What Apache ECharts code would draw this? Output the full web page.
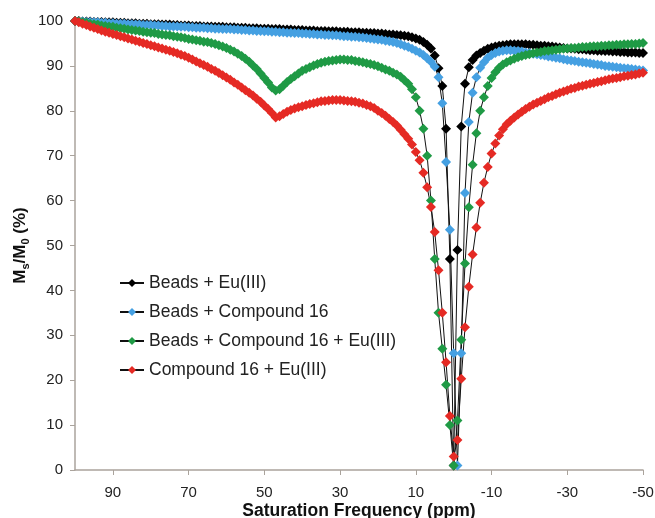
<!DOCTYPE html>
<html><head><meta charset="utf-8">
<script src="https://cdn.jsdelivr.net/npm/echarts@6/dist/echarts.min.js"></script>
<style>html,body{margin:0;padding:0;background:#fff}#c{width:655px;height:518px}</style>
</head><body><div id="c"></div>
<script>
const ppm = [100,99,98,97,96,95,94,93,92,91,90,89,88,87,86,85,84,83,82,81,80,79,78,77,76,75,74,73,72,71,70,69,68,67,66,65,64,63,62,61,60,59,58,57,56,55,54,53,52,51,50,49,48,47,46,45,44,43,42,41,40,39,38,37,36,35,34,33,32,31,30,29,28,27,26,25,24,23,22,21,20,19,18,17,16,15,14,13,12,11,10,9,8,7,6,5,4,3,2,1,0,-1,-2,-3,-4,-5,-6,-7,-8,-9,-10,-11,-12,-13,-14,-15,-16,-17,-18,-19,-20,-21,-22,-23,-24,-25,-26,-27,-28,-29,-30,-31,-32,-33,-34,-35,-36,-37,-38,-39,-40,-41,-42,-43,-44,-45,-46,-47,-48,-49,-50];

const beadsEu = [
100.0,100.0,99.9,99.9,99.9,99.8,99.8,99.8,99.7,99.7,
99.7,99.6,99.6,99.6,99.5,99.5,99.5,99.4,99.4,99.4,
99.3,99.3,99.3,99.2,99.2,99.2,99.1,99.1,99.0,99.0,
99.0,98.9,98.9,98.9,98.8,98.8,98.8,98.7,98.7,98.7,
98.6,98.6,98.6,98.5,98.5,98.5,98.4,98.4,98.4,98.3,
98.3,98.3,98.2,98.2,98.2,98.1,98.1,98.1,98.0,98.0,
98.0,97.9,97.9,97.9,97.8,97.8,97.8,97.7,97.7,97.7,
97.6,97.6,97.6,97.5,97.5,97.5,97.4,97.4,97.3,97.3,
97.2,97.2,97.1,97.0,97.0,96.9,96.8,96.7,96.6,96.4,
96.1,95.8,95.3,94.7,93.9,92.3,89.5,85.5,76.0,47.0,
1.0,
49.0,76.5,86.0,89.7,91.3,92.3,92.9,93.4,93.8,94.1,
94.3,94.5,94.6,94.7,94.8,94.8,94.8,94.8,94.8,94.7,
94.7,94.6,94.5,94.5,94.4,94.3,94.2,94.1,94.0,93.9,
93.9,93.8,93.7,93.7,93.6,93.5,93.5,93.4,93.4,93.3,
93.3,93.2,93.2,93.1,93.1,93.0,93.0,93.0,92.9,92.9];

const beadsCpd = [
100.0,99.9,99.9,99.8,99.8,99.7,99.7,99.6,99.6,99.5,
99.5,99.4,99.4,99.4,99.3,99.3,99.2,99.2,99.1,99.1,
99.1,99.0,99.0,98.9,98.9,98.8,98.8,98.8,98.7,98.7,
98.6,98.6,98.5,98.5,98.5,98.4,98.4,98.3,98.3,98.2,
98.2,98.2,98.1,98.1,98.0,98.0,97.9,97.9,97.8,97.8,
97.7,97.7,97.6,97.6,97.5,97.5,97.4,97.4,97.3,97.3,
97.2,97.2,97.1,97.1,97.0,97.0,96.9,96.9,96.8,96.8,
96.7,96.6,96.6,96.5,96.5,96.4,96.3,96.2,96.1,96.0,
95.9,95.8,95.6,95.5,95.3,95.1,94.8,94.5,94.2,93.8,
93.4,93.0,92.4,91.7,90.9,89.8,87.5,81.7,68.6,53.5,
26.0,
1.0,26.0,61.7,77.5,84.0,87.5,89.6,90.8,91.8,92.4,
92.9,93.2,93.4,93.5,93.5,93.4,93.3,93.2,93.0,92.9,
92.7,92.6,92.4,92.3,92.1,92.0,91.8,91.7,91.5,91.3,
91.2,91.1,90.9,90.8,90.7,90.6,90.4,90.3,90.2,90.0,
89.9,89.8,89.7,89.6,89.5,89.4,89.3,89.2,89.1,89.0];

const beadsCpdEu = [
100.0,99.9,99.7,99.6,99.4,99.3,99.2,99.0,98.9,98.8,
98.7,98.5,98.4,98.3,98.1,98.0,97.9,97.8,97.6,97.5,
97.4,97.3,97.1,97.0,96.9,96.8,96.6,96.5,96.4,96.2,
96.0,95.9,95.7,95.6,95.4,95.3,95.1,94.9,94.6,94.3,
94.0,93.6,93.2,92.7,92.2,91.6,90.9,90.1,89.3,88.3,
87.3,86.3,85.2,84.5,84.8,85.6,86.4,87.1,87.7,88.3,
88.9,89.3,89.7,90.1,90.4,90.7,90.9,91.1,91.2,91.3,
91.4,91.4,91.3,91.3,91.1,91.0,90.8,90.6,90.4,90.2,
89.9,89.6,89.2,88.9,88.5,88.1,87.6,86.8,86.0,84.8,
83.0,80.0,76.0,70.0,60.0,47.0,35.0,27.0,19.0,10.0,
1.0,
11.0,29.0,46.0,58.5,68.0,75.0,80.0,83.0,85.5,87.3,
88.6,89.6,90.3,90.8,91.2,91.6,91.9,92.2,92.4,92.6,
92.8,93.0,93.1,93.3,93.4,93.5,93.6,93.7,93.8,93.9,
94.0,94.0,94.1,94.2,94.2,94.3,94.4,94.4,94.5,94.5,
94.6,94.6,94.7,94.7,94.8,94.8,94.9,94.9,95.0,95.1];

const cpdEu = [
100.0,99.7,99.4,99.1,98.8,98.5,98.2,97.9,97.6,97.4,
97.1,96.9,96.6,96.4,96.1,95.9,95.6,95.4,95.1,94.9,
94.6,94.4,94.1,93.9,93.6,93.4,93.1,92.8,92.5,92.2,
91.8,91.4,91.0,90.6,90.2,89.8,89.3,88.9,88.4,87.9,
87.4,86.9,86.3,85.8,85.2,84.6,84.0,83.4,82.7,82.0,
81.2,80.4,79.5,78.5,78.8,79.3,79.8,80.2,80.5,80.8,
81.0,81.3,81.5,81.7,81.9,82.1,82.2,82.3,82.4,82.4,
82.4,82.3,82.2,82.1,82.0,81.8,81.6,81.3,81.0,80.6,
80.0,79.5,78.9,78.2,77.5,76.7,75.8,74.8,73.8,72.5,
70.8,69.0,66.2,63.0,58.6,53.0,44.5,35.0,24.0,12.0,
3.0,
6.7,20.3,31.8,40.8,48.0,54.0,59.5,64.0,67.5,70.5,
72.7,74.5,75.9,77.0,77.8,78.5,79.2,79.8,80.4,80.9,
81.4,81.8,82.2,82.6,83.0,83.3,83.7,84.0,84.3,84.6,
84.9,85.1,85.4,85.6,85.8,86.0,86.2,86.4,86.6,86.8,
87.0,87.2,87.3,87.5,87.7,87.8,88.0,88.1,88.3,88.5];

const seriesNames = ['Beads + Eu(III)', 'Beads + Compound 16', 'Beads + Compound 16 + Eu(III)', 'Compound 16 + Eu(III)'];
const seriesValues = [beadsEu, beadsCpd, beadsCpdEu, cpdEu];
const seriesColors = ['#000000', '#45a0e2', '#1f9a45', '#e52a24'];
const xTickLabels = [90, 70, 50, 30, 10, -10, -30, -50];

const FONT = 'Liberation Sans, Arial, sans-serif';
const AXIS_COLOR = '#aaa39c';

function pairs(vals) { return ppm.map((p, i) => [p, vals[i]]); }

const chart = echarts.init(document.getElementById('c'), null, { renderer: 'canvas' });
chart.setOption({
  animation: false,
  backgroundColor: '#ffffff',
  grid: { left: 75, right: 12, top: 21, bottom: 48, containLabel: false, outerBoundsMode: 'none' },
  legend: {
    orient: 'vertical', left: 119, top: 274, padding: 0,
    itemWidth: 24, itemHeight: 10, itemGap: 11,
    textStyle: { fontFamily: FONT, fontSize: 17.5, color: '#222' },
    data: seriesNames
  },
  xAxis: {
    type: 'value', min: -50, max: 100, inverse: true,
    axisLine: { onZero: false, lineStyle: { color: AXIS_COLOR, width: 1.5 } },
    axisTick: { show: true, customValues: xTickLabels, length: 5, lineStyle: { color: AXIS_COLOR } },
    axisLabel: { customValues: xTickLabels, margin: 15, fontFamily: FONT, fontSize: 15, color: '#222' },
    splitLine: { show: false },
    name: 'Saturation Frequency (ppm)', nameLocation: 'middle', nameGap: 32, nameMoveOverlap: false,
    nameTextStyle: { fontFamily: FONT, fontSize: 17.5, fontWeight: 'bold', color: '#111' }
  },
  yAxis: {
    type: 'value', min: 0, max: 100, interval: 10,
    axisLine: { show: true, onZero: false, lineStyle: { color: AXIS_COLOR, width: 1.5 } },
    axisTick: { show: true, length: 5, lineStyle: { color: AXIS_COLOR } },
    axisLabel: { margin: 12, fontFamily: FONT, fontSize: 15, color: '#222' },
    splitLine: { show: false },
    name: '{a|M}{s|s}{a|/M}{s|0}{a| (%)}', nameLocation: 'middle', nameGap: 44, nameRotate: 90, nameMoveOverlap: false,
    nameTextStyle: {
      rich: {
        a: { fontFamily: FONT, fontSize: 17, fontWeight: 'bold', color: '#111', lineHeight: 21, verticalAlign: 'middle' },
        s: { fontFamily: FONT, fontSize: 11, fontWeight: 'bold', color: '#111', lineHeight: 12, verticalAlign: 'bottom' }
      }
    }
  },
  series: seriesNames.map((n, k) => ({
    name: n, type: 'line', data: pairs(seriesValues[k]),
    symbol: 'diamond', symbolSize: 10, showSymbol: true,
    lineStyle: { color: '#111', width: 1 },
    itemStyle: { color: seriesColors[k] },
    emphasis: { disabled: true }
  }))
});
</script></body></html>
